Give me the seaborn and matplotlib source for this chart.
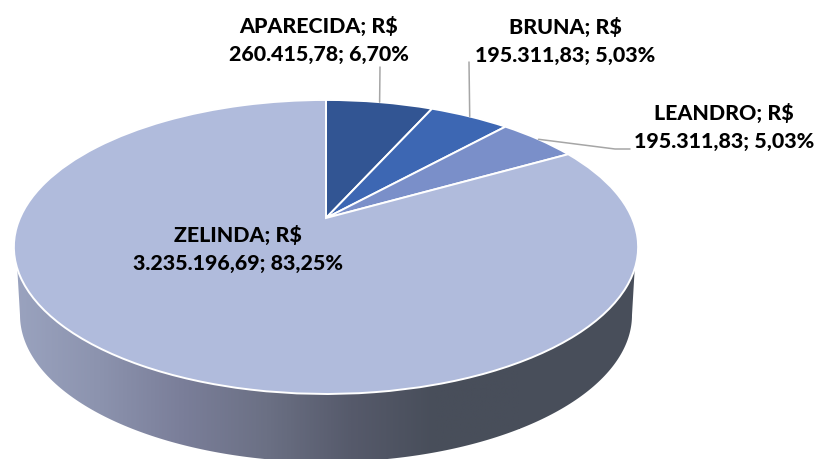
import numpy as np
import matplotlib
matplotlib.use("Agg")
import matplotlib.pyplot as plt
from matplotlib.patches import Polygon
from matplotlib.transforms import Transform
import seaborn as sns

names = ["APARECIDA", "BRUNA", "LEANDRO", "ZELINDA"]
values = [260415.78, 195311.83, 195311.83, 3235196.69]
slice_colors = ["#325593", "#3D67B3", "#7A8FC9", "#B0BBDC"]
wall_colors = ["#9AA3BF", "#8C93AE", "#7A7E99", "#6B7084", "#565A6B", "#484E5A", "#484E5A"]
label_xy = [(319, 40), (565, 41), (724, 127), (238, 249)]
leader_ends = [[(380, 68)], [(469, 63)], [(615, 150), (630, 150)], None]

sns.set_theme(style="white")
plt.rcParams["font.family"] = ["Lato", "DejaVu Sans"]

CX, CY, A, B, K = 326.0, 219.0, 306.0, 141.3, 0.197


class Tilt(Transform):
    input_dims = 2
    output_dims = 2
    is_affine = False
    has_inverse = False

    def transform_non_affine(self, pts):
        pts = np.asarray(pts, dtype=float)
        d = 1 + K * pts[:, 1]
        return np.column_stack([CX + A * pts[:, 0] / d, CY - B * pts[:, 1] / d])


def br(x, dec=2):
    return f"{x:,.{dec}f}".replace(",", "#").replace(".", ",").replace("#", ".")


fig = plt.figure(figsize=(8.17, 4.6), dpi=100, facecolor="white")
ax = fig.add_axes([0, 0, 1, 1])

# extruded side of the disc, shaded left to right
t = np.linspace(0, np.pi, 200)
top = np.column_stack([326 + 310 * np.cos(t), 248 + 147 * np.sin(t)])
low = np.column_stack([326 + 306 * np.cos(t[::-1]), 316 + 147 * np.sin(t[::-1])])
wall = Polygon(np.vstack([top, low]), closed=True, transform=ax.transData,
               facecolor="none", edgecolor="none")
ax.add_patch(wall)
cmap = sns.blend_palette(wall_colors, as_cmap=True)
im = ax.imshow(np.linspace(0, 1, 400)[None, :], cmap=cmap, aspect="auto",
               extent=(14, 520, 470, 240), zorder=1)
grad2 = ax.imshow(np.ones((1, 2)), cmap=sns.blend_palette(["#484E5A", "#484E5A"], as_cmap=True),
                  vmin=0, vmax=1, aspect="auto", extent=(519, 640, 470, 240), zorder=1)
im.set_clip_path(wall)
grad2.set_clip_path(wall)

wedges, _ = ax.pie(values, colors=slice_colors, startangle=90, counterclock=False,
                   radius=1, wedgeprops={"edgecolor": "white", "linewidth": 1.4, "zorder": 2},
                   frame=False)
tilt = Tilt()
for w in wedges:
    w.set_transform(tilt + ax.transData)

total = sum(values)
cum = 0.0
for name, v, xy, ends in zip(names, values, label_xy, leader_ends):
    mid = np.deg2rad((cum + v / 2) / total * 360)
    cum += v
    if ends:
        start = tilt.transform_non_affine(np.array([[np.sin(mid), np.cos(mid)]]))[0]
        pts = np.array([tuple(start)] + ends)
        ax.plot(pts[:, 0], pts[:, 1], color="#A6A6A6", lw=1.1, zorder=3)
    ax.text(xy[0], xy[1], f"{name}; R$\n{br(v)}; {br(v / total * 100)}%",
            ha="center", va="center", fontsize=15.4, fontweight="black",
            color="black", linespacing=1.55, zorder=4)

ax.set_aspect("auto")
ax.set_xlim(0, 817)
ax.set_ylim(460, 0)
ax.axis("off")
fig.savefig("out.png", dpi=100, facecolor="white")
